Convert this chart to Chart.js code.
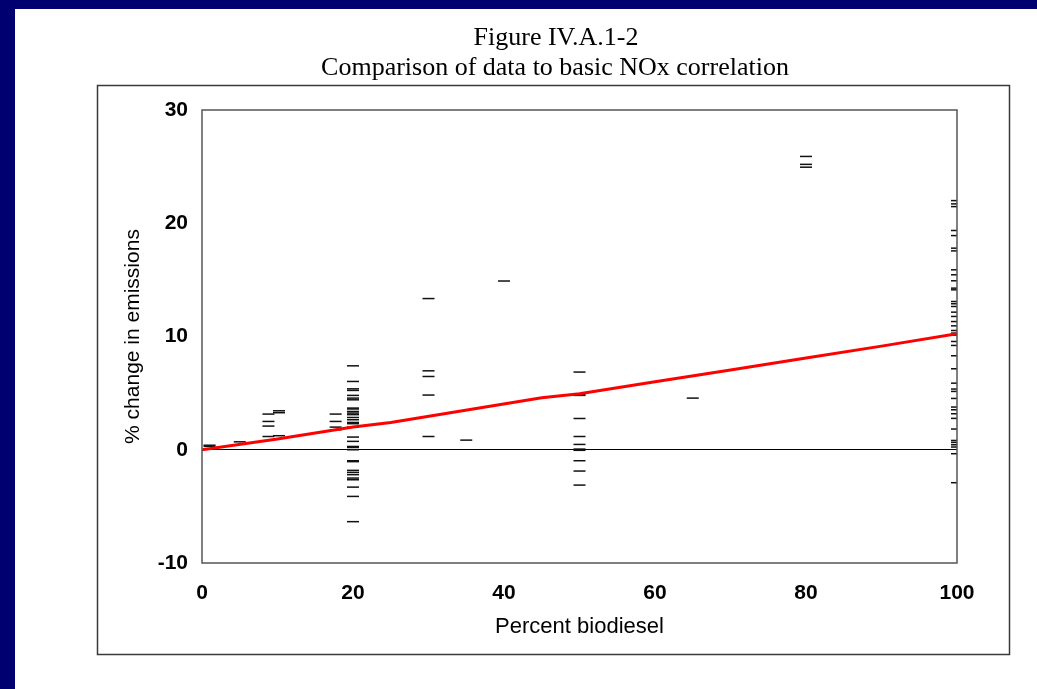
<!DOCTYPE html>
<html>
<head>
<meta charset="utf-8">
<script src="https://cdn.jsdelivr.net/npm/chart.js@4"></script>
<style>
  html, body { margin: 0; padding: 0; background: #000070; }
  #wrap { width: 1037px; height: 689px; }
</style>
</head>
<body>
<div id="wrap"><canvas id="myChart" width="1037" height="689"></canvas></div>
<script>
(() => {
  'use strict'

  // % change in NOx emissions, grouped by blend level (percent biodiesel)
  const b1 = [0.3, 0.4]
  const b5 = [0.7]
  const b9 = [3.15, 2.5, 2.09, 1.17]
  const b10 = [3.44, 3.27, 1.24]
  const b18 = [3.15, 2.5, 2.0, 1.76]
  const b20 = [7.41, 6.03, 5.38, 5.24, 4.8, 4.56, 4.41, 3.68, 3.6, 3.38, 3.24, 3.1, 2.85, 2.65,
    2.41, 2.3, 2.0, 1.12, 0.74, 0.29, 0.2, 0.0, -0.97, -1.05, -1.82, -2.0, -2.2, -2.5, -2.65,
    -3.3, -4.12, -6.35]
  const b30 = [13.35, 6.97, 6.47, 4.83, 1.17]
  const b35 = [0.85]
  const b40 = [14.9]
  const b50 = [6.86, 4.88, 4.8, 2.76, 1.17, 0.47, 0.06, -0.05, -0.97, -1.88, -3.12]
  const b65 = [4.56]
  const b80 = [25.9, 25.2, 24.95]
  const b100 = [22.0, 21.71, 21.47, 19.36, 18.91, 17.8, 17.56, 15.89, 15.45, 14.92, 14.27, 14.12,
    13.09, 12.89, 12.65, 12.15, 11.77, 11.32, 10.94, 10.53, 10.3, 10.12, 9.56, 9.21, 8.3, 7.15,
    5.88, 5.36, 5.15, 4.53, 3.77, 3.53, 3.18, 2.77, 1.83, 0.82, 0.65, 0.44, 0.24, -0.35, -2.91]

  const blendLevels = [1, 5, 8.8, 10.2, 17.7, 20, 30, 35, 40, 50, 65, 80, 100]
  const blendChanges = [b1, b5, b9, b10, b18, b20, b30, b35, b40, b50, b65, b80, b100]

  // basic NOx correlation curve
  const fitX = [0, 10, 20, 25, 45, 50, 60, 70, 80, 90, 100]
  const fitY = [0, 0.95, 2.0, 2.4, 4.6, 4.95, 6.0, 7.05, 8.1, 9.15, 10.25]

  const xTicks = [0, 20, 40, 60, 80, 100]
  const yTicks = [-10, 0, 10, 20, 30]

  const titulo = ['Figure IV.A.1-2', 'Comparison of data to basic NOx correlation']

  const pontos = []
  blendLevels.forEach((x, i) => {
    blendChanges[i].forEach(y => pontos.push({ x, y }))
  })
  const curva = fitX.map((x, i) => ({ x, y: fitY[i] }))

  const fundo = {
    id: 'fundo',
    beforeDraw(chart) {
      const c = chart.ctx
      c.save()
      c.fillStyle = '#000070'
      c.fillRect(0, 0, chart.width, chart.height)
      c.fillStyle = '#ffffff'
      c.fillRect(15, 9, chart.width - 15, chart.height - 9)
      c.strokeStyle = '#3a3a3a'
      c.lineWidth = 1.5
      c.strokeRect(97.5, 85.5, 912, 569)
      c.fillStyle = '#000'
      c.font = '26px "Liberation Serif", serif'
      c.textAlign = 'center'
      c.textBaseline = 'middle'
      c.fillText(titulo[0], 556, 38)
      c.fillText(titulo[1], 555, 68)
      c.restore()
    },
    afterDatasetsDraw(chart) {
      const a = chart.chartArea
      const c = chart.ctx
      c.save()
      c.strokeStyle = '#555'
      c.lineWidth = 1.5
      c.strokeRect(a.left, a.top, a.right - a.left, a.bottom - a.top)
      c.restore()
    }
  }

  const ctx = document.getElementById('myChart')

  new Chart(ctx, {
    type: 'scatter',
    data: {
      datasets: [
        {
          type: 'scatter',
          label: 'Data',
          data: pontos,
          pointStyle: 'line',
          pointRadius: 6,
          pointHoverRadius: 6,
          borderColor: '#111',
          backgroundColor: '#111',
          borderWidth: 1.5,
          clip: 0,
          order: 2
        },
        {
          type: 'line',
          label: 'Basic NOx correlation',
          data: curva,
          borderColor: '#ff0000',
          borderWidth: 3,
          pointRadius: 0,
          fill: false,
          tension: 0,
          order: 1
        }
      ]
    },
    options: {
      responsive: false,
      animation: false,
      events: [],
      layout: { padding: { left: 97, top: 110, right: 80, bottom: 49 } },
      plugins: {
        legend: { display: false },
        tooltip: { enabled: false }
      },
      scales: {
        x: {
          type: 'linear',
          min: 0,
          max: 100,
          afterBuildTicks: s => { s.ticks = xTicks.map(v => ({ value: v })) },
          afterFit: s => { s.height = 77 },
          grid: { display: false, drawTicks: false },
          border: { display: false },
          ticks: {
            padding: 18,
            color: '#000',
            font: { family: '"Liberation Sans", Arial, sans-serif', size: 21, weight: 'bold' }
          },
          title: {
            display: true,
            text: 'Percent biodiesel',
            color: '#000',
            padding: { top: 0, bottom: 0 },
            font: { family: '"Liberation Sans", Arial, sans-serif', size: 22 }
          }
        },
        y: {
          type: 'linear',
          min: -10,
          max: 30,
          afterBuildTicks: s => { s.ticks = yTicks.map(v => ({ value: v })) },
          afterFit: s => { s.width = 105 },
          grid: {
            drawTicks: false,
            lineWidth: 1,
            color: c => (c.tick && c.tick.value === 0 ? '#000' : 'rgba(0,0,0,0)')
          },
          border: { display: false },
          ticks: {
            padding: 14,
            color: '#000',
            font: { family: '"Liberation Sans", Arial, sans-serif', size: 21, weight: 'bold' }
          },
          title: {
            display: true,
            text: '% change in emissions',
            color: '#000',
            padding: { top: 24, bottom: 0 },
            font: { family: '"Liberation Sans", Arial, sans-serif', size: 21 }
          }
        }
      }
    },
    plugins: [fundo]
  })
})()
</script>
</body>
</html>
